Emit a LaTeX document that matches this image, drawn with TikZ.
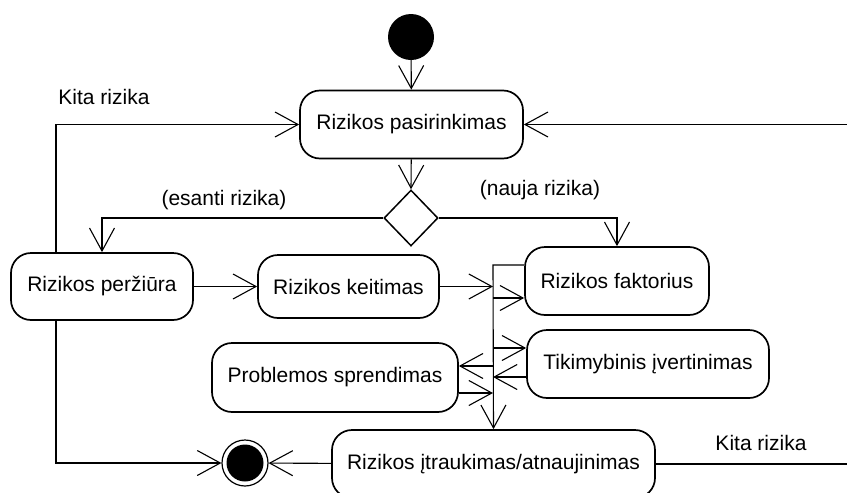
\documentclass[tikz,border=0pt]{standalone}
\usepackage{fontspec}
\setmainfont{Liberation Sans}
\usetikzlibrary{arrows.meta,shapes.geometric}
\begin{document}
\begin{tikzpicture}[x=1pt,y=-1pt,
  txt/.style={font=\fontsize{21}{25}\selectfont},
  act/.style={txt,draw,line width=1.7pt,rounded corners=20pt,inner sep=0pt,align=center},
  conn/.style={line width=1.1pt,-{Straight Barb[length=23pt,width=25pt]}},
  link/.style={line width=1.1pt},
  lbl/.style={txt,inner sep=0pt}]
\clip (0,0) rectangle (847,493);

% start and end states
\node[circle,fill=black,minimum size=46pt,inner sep=0pt] (start) at (411,37) {};
\node[circle,draw,line width=1.2pt,minimum size=46pt,inner sep=0pt,
  path picture={\fill (path picture bounding box.center) circle (18.5pt);}] (fin) at (245,463) {};

% activities
\node[act,minimum width=223pt,minimum height=68pt] (pas) at (411.5,124.5) {Rizikos pasirinkimas};
\node[diamond,draw,line width=1.5pt,inner sep=0pt,minimum width=54pt,minimum height=56pt] (dec) at (411,218) {};
\node[act,minimum width=182pt,minimum height=67pt] (perz) at (102,286.5) {Rizikos peržiūra};
\node[act,minimum width=181pt,minimum height=63pt] (keit) at (348.5,286.5) {Rizikos keitimas};
\node[act,minimum width=184pt,minimum height=68pt] (fakt) at (617,281) {Rizikos faktorius};
\node[act,minimum width=242pt,minimum height=68pt] (tik) at (648,364) {Tikimybinis įvertinimas};
\node[act,minimum width=246pt,minimum height=69pt] (prob) at (335,377.5) {Problemos sprendimas};
\node[act,minimum width=323pt,minimum height=68pt] (itr) at (493.5,464) {Rizikos įtraukimas/atnaujinimas};

% junction bar points and outer loop columns
\coordinate (j0) at (493,265);
\coordinate (j2) at (493,298);
\coordinate (j3) at (493,348);
\coordinate (j4) at (493,366);
\coordinate (j5) at (493,377);
\coordinate (j6) at (493,393);
\coordinate (lx) at (56,0);
\coordinate (rx) at (862,0);

% labels
\node[lbl] at (104,97) {Kita rizika};
\node[lbl] at (761,443) {Kita rizika};
\node[lbl] at (224,200) {(esanti rizika)};
\node[lbl] at (540,190) {(nauja rizika)};

% flow
\draw[conn] (start) -- (pas);
\draw[conn] (pas) -- (dec.north);
\draw[conn] (dec.west) -| (perz.north);
\draw[conn] (dec.east) -| (fakt.north);
\draw[conn] (perz) -- (keit);
\draw[conn] (keit.east) -- (keit.east -| j0);
\draw[conn] (j0 -| fakt.west) -- (j0) -- (itr.north);
\draw[conn] (j2) -- (j2 -| fakt.west);
\draw[conn] (j3) -- (j3 -| tik.west);
\draw[conn] (j5 -| tik.west) -- (j5);
\draw[conn] (j4) -- (j4 -| prob.east);
\draw[conn] (j6 -| prob.east) -- (j6);
\draw[conn] (itr) -- (fin);
\draw[conn] (perz.south -| lx) |- (fin.west);
\draw[conn] (perz.north -| lx) |- (pas.west);
\draw[conn] (itr.east) -- (rx |- itr.east) -- (rx |- pas.east) -- (pas.east);
\end{tikzpicture}
\end{document}
